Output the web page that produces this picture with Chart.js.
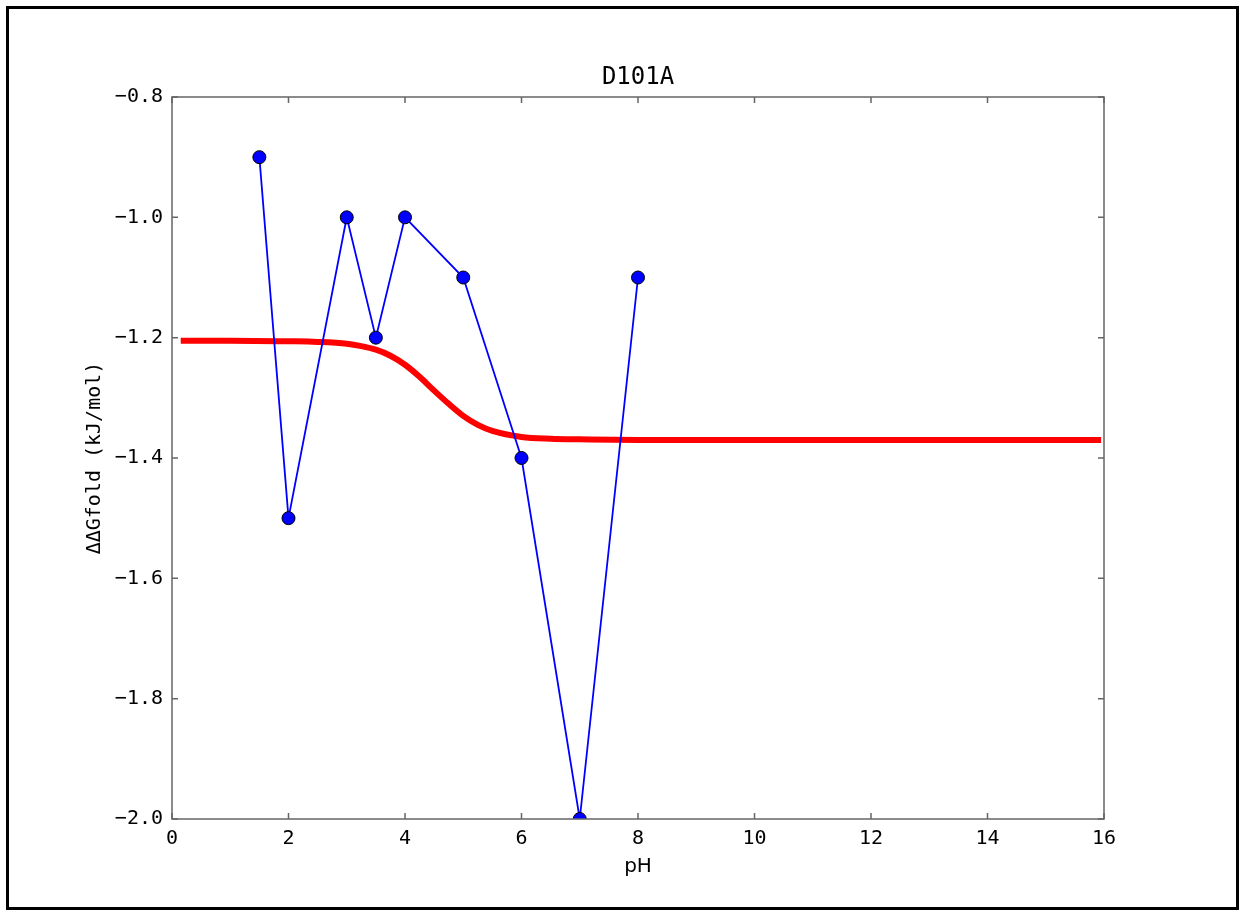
<!DOCTYPE html>
<html lang="en">
<head>
  <meta charset="UTF-8">
  <title>D101A</title>
  <script src="https://cdn.jsdelivr.net/npm/chart.js"></script>
  <style>
    body { margin: 0; background: #fff; }
    #frame {
      position: absolute;
      left: 6px; top: 6px;
      width: 1227px; height: 898px;
      border: 3px solid #000;
    }
    #wrap { position: absolute; left: 0; top: 0; width: 1240px; height: 911px; }
  </style>
</head>
<body>
<div id="frame"></div>
<div id="wrap"><canvas id="chart" width="1240" height="911"></canvas></div>
<script>
  // measured points
  const phPoints = [1.5, 2, 3, 3.5, 4, 5, 6, 7, 8];
  const ddgPoints = [-0.9, -1.5, -1.0, -1.2, -1.0, -1.1, -1.4, -2.0, -1.1];

  // fitted curve
  const phFit = [0.15, 1, 2, 2.5, 3, 3.25, 3.5, 3.75, 4, 4.25, 4.5, 4.75, 5, 5.25, 5.5, 6, 6.5, 7, 8, 10, 12, 14, 15.95];
  const ddgFit = [-1.205, -1.205, -1.206, -1.207, -1.210, -1.214, -1.220, -1.230, -1.245, -1.265, -1.288, -1.310, -1.330, -1.345, -1.355, -1.365, -1.368, -1.369, -1.370, -1.370, -1.370, -1.370, -1.370];

  const xTicksMin = 0, xTicksMax = 16, xStep = 2;
  const yTicksMin = -2.0, yTicksMax = -0.8, yStep = 0.2;
  const chartTitle = 'D101A';

  const minus = s => String(s).replace('-', '\u2212');
  const mono = 'DejaVu Sans Mono';

  // box + inward ticks on all four sides, like the old matplotlib style
  const boxPlugin = {
    id: 'boxPlugin',
    afterDatasetsDraw(chart) {
      const { ctx, chartArea: a, scales } = chart;
      const len = 6;
      ctx.save();
      ctx.strokeStyle = '#666';
      ctx.lineWidth = 1.5;
      ctx.strokeRect(a.left, a.top, a.right - a.left, a.bottom - a.top);
      ctx.beginPath();
      scales.x.ticks.forEach(t => {
        const x = scales.x.getPixelForValue(t.value);
        ctx.moveTo(x, a.bottom); ctx.lineTo(x, a.bottom - len);
        ctx.moveTo(x, a.top); ctx.lineTo(x, a.top + len);
      });
      scales.y.ticks.forEach(t => {
        const y = scales.y.getPixelForValue(t.value);
        ctx.moveTo(a.left, y); ctx.lineTo(a.left + len, y);
        ctx.moveTo(a.right, y); ctx.lineTo(a.right - len, y);
      });
      ctx.stroke();
      // title centred over the plot box
      ctx.fillStyle = '#000';
      ctx.font = '24px "' + mono + '"';
      ctx.textAlign = 'center';
      ctx.textBaseline = 'middle';
      ctx.fillText(chartTitle, (a.left + a.right) / 2, 78);
      ctx.restore();
    }
  };

  new Chart(document.getElementById('chart'), {
    type: 'scatter',
    data: {
      datasets: [
        {
          label: 'data',
          data: phPoints.map((x, i) => ({ x, y: ddgPoints[i] })),
          showLine: true,
          borderColor: '#0000ff',
          borderWidth: 1.8,
          pointRadius: 6.5,
          pointBackgroundColor: '#0000ff',
          pointBorderColor: '#000',
          pointBorderWidth: 1,
          clip: 0
        },
        {
          label: 'fit',
          data: phFit.map((x, i) => ({ x, y: ddgFit[i] })),
          showLine: true,
          borderColor: '#ff0000',
          borderWidth: 6,
          pointRadius: 0,
          cubicInterpolationMode: 'monotone',
          clip: 0
        }
      ]
    },
    options: {
      responsive: false,
      animation: false,
      layout: { padding: { left: 0, top: 97, right: 136, bottom: 0 } },
      plugins: {
        legend: { display: false },
        tooltip: { enabled: false },
        title: { display: false }
      },
      scales: {
        x: {
          type: 'linear',
          min: xTicksMin,
          max: xTicksMax,
          grid: { display: false },
          border: { display: false },
          ticks: {
            stepSize: xStep,
            color: '#000',
            padding: 0,
            maxRotation: 0,
            font: { family: mono, size: 20 },
            callback: v => minus(v)
          },
          title: {
            display: true,
            text: 'pH',
            color: '#000',
            font: { family: 'DejaVu Sans', size: 20 },
            padding: { top: 0, bottom: 32 }
          },
          afterFit: s => { s.height = 92; }
        },
        y: {
          min: yTicksMin,
          max: yTicksMax,
          grid: { display: false },
          border: { display: false },
          ticks: {
            stepSize: yStep,
            color: '#000',
            padding: 1,
            font: { family: mono, size: 20 },
            callback: v => minus(v.toFixed(1))
          },
          title: {
            display: true,
            text: '\u0394\u0394Gfold (kJ/mol)',
            color: '#000',
            font: { family: mono, size: 20 },
            padding: { top: 83, bottom: 0 }
          },
          afterFit: s => { s.width = 172; }
        }
      }
    },
    plugins: [boxPlugin]
  });
</script>
</body>
</html>
